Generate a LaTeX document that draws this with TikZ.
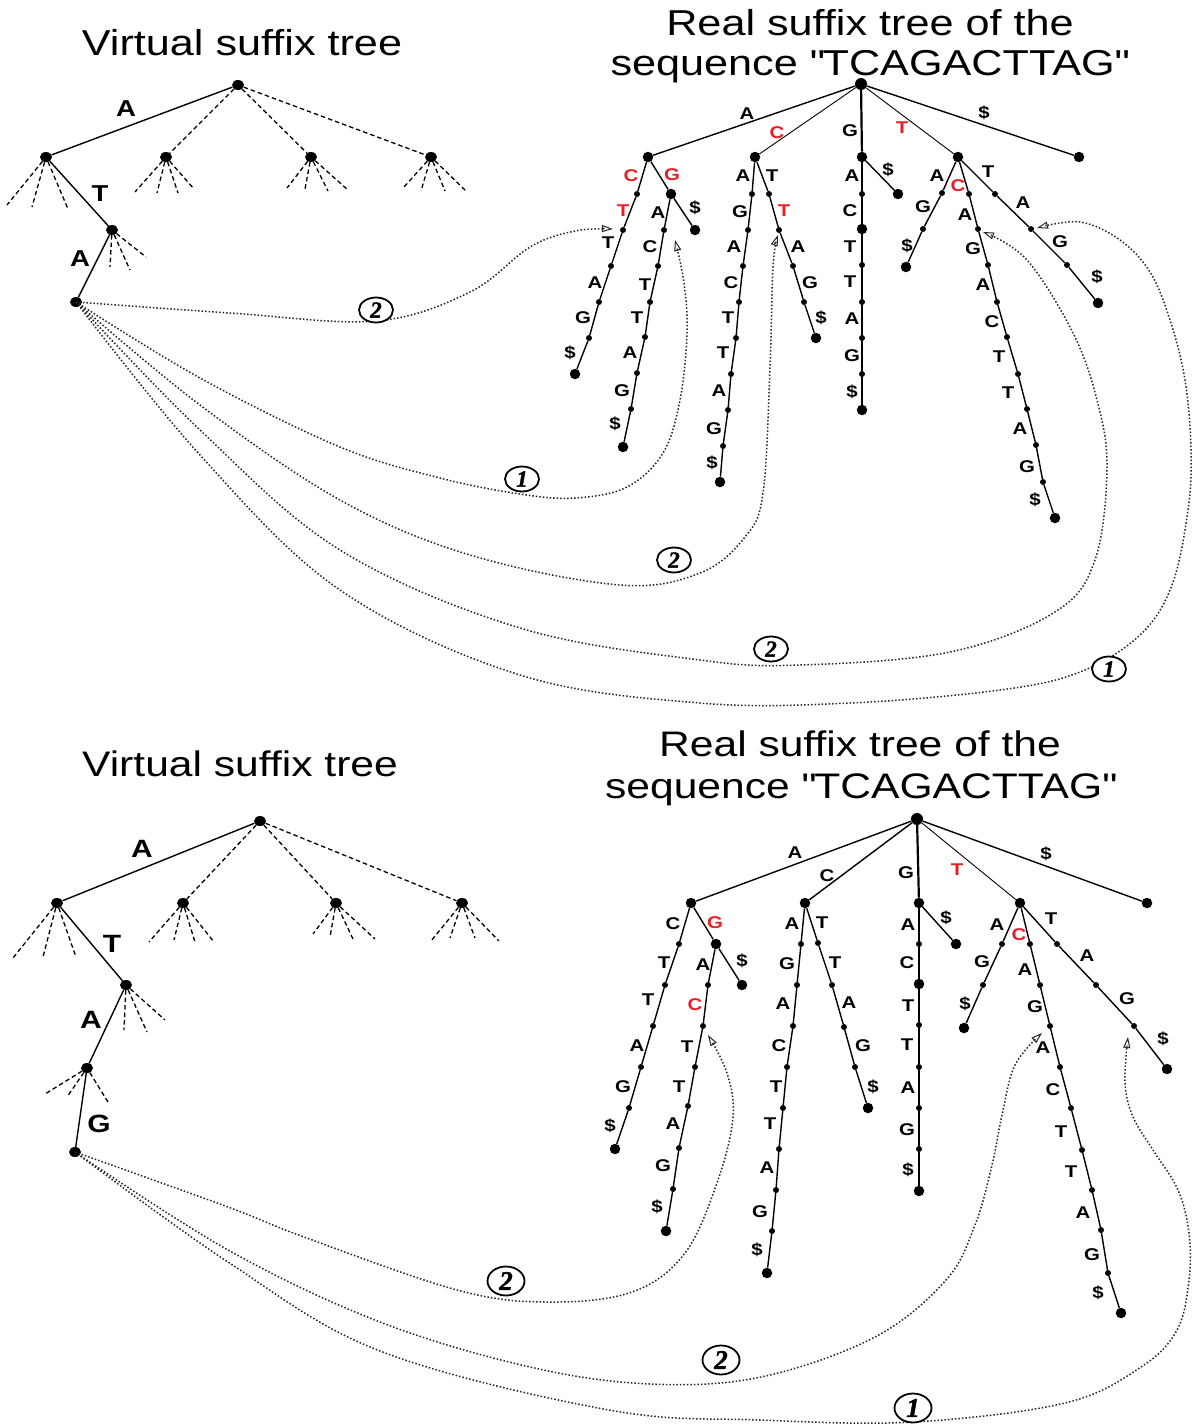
\documentclass[tikz,border=0pt]{standalone}
\usepackage{fontspec}
\setmainfont{Liberation Sans}[FakeStretch=1.2]
\newfontfamily\numfont{Liberation Serif}[FakeBold=1.5]
\usetikzlibrary{arrows.meta,shapes.geometric}
\definecolor{lred}{RGB}{235,28,36}
\newcommand\rd[1]{\textcolor{lred}{#1}}
\newcommand\chain[6]{%
  \node[bd] (#5) at #6 {};%
  \foreach \p [count=\i, remember=\i as \j (initially 0)] in {#4} {%
    \node[sd] (#2\i) at \p {};%
    \ifnum\j=0 \draw[#1] (#3) -- (#2\i);\else \draw[#1] (#2\j) -- (#2\i);\fi
    \xdef\lastname{#2\i}%
  }%
  \draw[#1] (\lastname) -- (#5);%
}
\newcommand\labs[2]{\foreach \x/\y/\t [count=\i] in {#2} {\node[lab] (#1\i) at (\x,\y) {\t};}}
\newcommand\fans[2]{\foreach \dx/\dy in {#2} {\draw[fan] (#1) -- ++(\dx,\dy);}}
\tikzset{
  sd/.style={circle,fill=black,inner sep=0pt,minimum size=6pt},
  bd/.style={circle,fill=black,inner sep=0pt,minimum size=10.5pt},
  vd/.style={ellipse,fill=black,inner sep=0pt,minimum width=12pt,minimum height=10pt},
  edge/.style={line width=1.4pt},
  tedge/.style={line width=0.9pt},
  gedge/.style={line width=2.2pt},
  fan/.style={line width=1.3pt,dash pattern=on 4.5pt off 3pt},
  lab/.style={inner sep=0pt,font=\fontsize{17}{17}\selectfont\bfseries},
  vlab/.style={inner sep=0pt,font=\fontsize{23}{23}\selectfont\bfseries},
  vlabb/.style={inner sep=0pt,font=\fontsize{25}{25}\selectfont\bfseries},
  ttl/.style={inner sep=0pt,anchor=base,font=\fontsize{36}{40}\selectfont},
  ttlb/.style={inner sep=0pt,anchor=base,font=\fontsize{35.5}{40}\selectfont},
  link/.style={line width=1.5pt,black!85,dash pattern=on 1.5pt off 2pt,
     -{Triangle[open,length=11pt,width=7pt,line width=1pt]}},
  cnum/.style={ellipse,draw,line width=1.8pt,fill=white,inner sep=0pt,
     minimum width=34pt,minimum height=25pt,
     font=\numfont\fontsize{23}{23}\selectfont\bfseries\itshape},
  cnumb/.style={cnum,minimum width=37pt,minimum height=29pt,
     font=\numfont\fontsize{27}{27}\selectfont\bfseries\itshape},
}
\begin{document}
\begin{tikzpicture}[x=1pt,y=-1pt]
\fill[white] (0,0) rectangle (1192,1427);
\useasboundingbox (0,0) rectangle (1192,1427);

%================ TOP PANEL ================
\node[ttl] (tv) at (242,55) {Virtual suffix tree};
\node[ttl] (tr1) at (870,35) {Real suffix tree of the};
\node[ttl] (tr2) at (869,75) {sequence \textquotedbl TCAGACTTAG\textquotedbl};

% virtual tree
\node[vd] (vr) at (238,85) {};
\node[vd] (v1) at (46,157) {};
\node[vd] (v2) at (166,157) {};
\node[vd] (v3) at (311,157) {};
\node[vd] (v4) at (431,157) {};
\node[vd] (v5) at (112,230) {};
\node[vd] (V) at (76,302) {};
\draw[edge] (vr) -- (v1);
\draw[edge] (v1) -- (v5);
\draw[edge] (v5) -- (V);
\draw[fan] (vr) -- (v2);
\draw[fan] (vr) -- (v3);
\draw[fan] (vr) -- (v4);
\fans{v1}{-39/48,-14/50,22/52}
\fans{v2}{-31/35,-9/36,12/36,28/32}
\fans{v3}{-24/31,-6/32,17/34,37/33}
\fans{v4}{-27/30,-10/34,14/34,35/34}
\fans{v5}{-2/37,18/40,34/27}
\node[vlab] (lva) at (126,109) {A};
\node[vlab] (lvt) at (100,194) {T};
\node[vlab] (lvb) at (80,259) {A};

% real tree
\node[bd,minimum size=12pt] (R) at (861,84) {};
\node[bd] (Ra) at (648,157) {};
\node[bd] (Rc) at (755,157) {};
\node[bd] (Rg) at (862,157) {};
\node[bd] (Rt) at (958,157) {};
\node[bd] (Rd) at (1079,157) {};
\draw[edge] (R) -- (Ra);
\draw[tedge] (R) -- (Rc);
\draw[gedge] (R) -- (Rg);
\draw[tedge] (R) -- (Rt);
\draw[edge] (R) -- (Rd);
\chain{edge}{rac}{Ra}{(637,194),(623,230),(611,266),(599,302),(589,338)}{racL}{(575,374)}
\node[bd] (Rag) at (671,194) {};
\draw[edge] (Ra) -- (Rag);
\node[bd] (Ragd) at (695,230) {};
\draw[edge] (Rag) -- (Ragd);
\chain{edge}{raga}{Rag}{(664,230),(658,266),(650,302),(645,337),(637,373),(631,409)}{ragaL}{(623,447)}
\chain{edge}{rca}{Rc}{(752,194),(748,230),(743,266),(739,302),(736,338),(731,374),(728,410),(723,446)}{rcaL}{(720,482)}
\chain{edge}{rct}{Rc}{(769,194),(779,230),(793,266),(804,302)}{rctL}{(816,338)}
\chain{gedge}{rg}{Rg}{(862,194)}{Rgm}{(862,229)}
\chain{gedge}{rgb}{Rgm}{(862,265),(862,302),(862,338),(862,374)}{rgL}{(862,410)}
\node[bd] (Rgd) at (898,194) {};
\draw[edge] (Rg) -- (Rgd);
\chain{edge}{rta}{Rt}{(942,193),(923,229)}{rtaL}{(906,267)}
\chain{edge}{rtc}{Rt}{(969,194),(978,229),(988,265),(997,302),(1007,337),(1018,374),(1027,409),(1036,445),(1043,482)}{rtcL}{(1055,518)}
\chain{edge}{rtt}{Rt}{(995,194),(1031,229),(1067,265)}{rttL}{(1098,303)}

\labs{LR}{747/114/A,777/133/\rd{C},850/131/G,902/128/\rd{T},984/113/\$}
\labs{Lrac}{631/176/\rd{C},623/211/\rd{T},608/243/T,595/283/A,583/318/G,570/353/\$}
\labs{Lrag}{672/175/\rd{G},695/208/\$}
\labs{Lraga}{658/213/A,650/247/C,645/285/T,637/318/T,630/353/A,622/391/G,615/424/\$}
\labs{Lrca}{743/176/A,740/212/G,734/247/A,731/283/C,728/318/T,723/353/T,719/391/A,714/429/G,712/463/\$}
\labs{Lrct}{772/176/T,784/211/\rd{T},798/247/A,810/283/G,821/318/\$}
\labs{Lrg}{852/176/A,850/211/C,850/247/T,850/282/T,852/319/A,852/356/G,852/392/\$,888/170/\$}
\labs{Lrta}{937/176/A,923/207/G,907/246/\$}
\labs{Lrtc}{958/186/\rd{C},965/215/A,973/249/G,983/285/A,992/322/C,999/357/T,1008/393/T,1020/429/A,1027/467/G,1035/500/\$}
\labs{Lrtt}{988/172/T,1023/203/A,1060/242/G,1097/277/\$}

% links
\coordinate (t1) at (613,229);
\coordinate (t2) at (675,240);
\coordinate (t3) at (778,235);
\coordinate (t4) at (983,232);
\coordinate (t5) at (1037,228);
\draw[link] plot[smooth,tension=0.6] coordinates {(V) (230,313) (376,321) (470,292) (530,247) (575,231) (t1)};
\draw[link] plot[smooth,tension=0.6] coordinates {(V) (200,378) (340,447) (440,478) (520,494) (575,498) (627,487) (663,453) (680,400) (687,333) (684,283) (t2)};
\draw[link] plot[smooth,tension=0.6] coordinates {(V) (200,405) (340,500) (470,555) (620,585) (700,573) (745,537) (763,493) (770,367) (773,267) (t3)};
\draw[link] plot[smooth,tension=0.6] coordinates {(V) (200,430) (340,550) (520,628) (700,660) (800,665) (950,652) (1055,612) (1095,560) (1107,467) (1097,400) (1073,333) (1027,260) (t4)};
\draw[link] plot[smooth,tension=0.6] coordinates {(V) (200,455) (340,590) (520,675) (700,703) (850,703) (1000,690) (1080,672) (1140,635) (1172,585) (1188,510) (1191,450) (1185,380) (1170,320) (1150,272) (1120,240) (1080,222) (t5)};
\node[cnum] (c1) at (376,310) {2};
\node[cnum] (c2) at (522,479) {1};
\node[cnum] (c3) at (674,560) {2};
\node[cnum] (c4) at (771,649) {2};
\node[cnum] (c5) at (1109,669) {1};

%================ BOTTOM PANEL ================
\node[ttlb] (bv) at (240,776) {Virtual suffix tree};
\node[ttlb] (br1) at (860,756) {Real suffix tree of the};
\node[ttlb] (br2) at (860,798) {sequence \textquotedbl TCAGACTTAG\textquotedbl};

% virtual tree
\node[vd] (wr) at (260,821) {};
\node[vd] (w1) at (57,903) {};
\node[vd] (w2) at (183,903) {};
\node[vd] (w3) at (336,903) {};
\node[vd] (w4) at (462,903) {};
\node[vd] (w5) at (126,985) {};
\node[vd] (w6) at (87,1068) {};
\node[vd] (V2) at (75,1152) {};
\draw[edge] (wr) -- (w1);
\draw[edge] (w1) -- (w5);
\draw[edge] (w5) -- (w6);
\draw[edge] (w6) -- (V2);
\draw[fan] (wr) -- (w2);
\draw[fan] (wr) -- (w3);
\draw[fan] (wr) -- (w4);
\fans{w1}{-44/55,-14/54,19/54}
\fans{w2}{-34/39,-9/37,12/39,31/39}
\fans{w3}{-23/31,-6/34,17/36,39/36}
\fans{w4}{-31/38,-12/35,13/35,37/38}
\fans{w5}{-2/45,21/47,39/35}
\fans{w6}{-42/26,-20/29,21/34}
\node[vlabb] (lwa) at (142,849) {A};
\node[vlabb] (lwt) at (112,944) {T};
\node[vlabb] (lwb) at (91,1020) {A};
\node[vlabb] (lwg) at (99,1124) {G};

% real tree
\node[bd,minimum size=12pt] (S) at (917,819) {};
\node[bd] (Sa) at (691,903) {};
\node[bd] (Sc) at (805,903) {};
\node[bd] (Sg) at (919,903) {};
\node[bd] (St) at (1020,903) {};
\node[bd] (Sd) at (1147,903) {};
\draw[edge] (S) -- (Sa);
\draw[edge] (S) -- (Sc);
\draw[gedge] (S) -- (Sg);
\draw[tedge] (S) -- (St);
\draw[edge] (S) -- (Sd);
\chain{edge}{sac}{Sa}{(679,944),(665,985),(653,1026),(641,1067),(629,1108)}{sacL}{(615,1149)}
\node[bd] (Sag) at (716,944) {};
\draw[edge] (Sa) -- (Sag);
\node[bd] (Sagd) at (742,985) {};
\draw[edge] (Sag) -- (Sagd);
\chain{edge}{saga}{Sag}{(708,985),(703,1026),(695,1067),(688,1106),(679,1148),(673,1189)}{sagaL}{(666,1231)}
\chain{edge}{sca}{Sc}{(801,944),(797,985),(793,1026),(787,1067),(783,1108),(779,1149),(776,1190),(772,1231)}{scaL}{(767,1273)}
\chain{edge}{sct}{Sc}{(818,943),(832,985),(844,1027),(855,1067)}{sctL}{(868,1108)}
\chain{gedge}{sg}{Sg}{(919,944)}{Sgm}{(919,984)}
\chain{gedge}{sgb}{Sgm}{(919,1025),(919,1067),(919,1108),(919,1149)}{sgL}{(919,1191)}
\node[bd] (Sgd) at (956,944) {};
\draw[edge] (Sg) -- (Sgd);
\chain{edge}{sta}{St}{(1002,944),(983,985)}{staL}{(964,1028)}
\chain{edge}{stc}{St}{(1030,944),(1040,985),(1050,1026),(1060,1067),(1071,1108),(1082,1150),(1092,1190),(1101,1230),(1108,1273)}{stcL}{(1121,1313)}
\chain{edge}{stt}{St}{(1057,944),(1096,985),(1134,1026)}{sttL}{(1167,1069)}

\labs{LS}{795/853/A,827/876/C,906/873/G,957/870/\rd{T},1046/854/\$}
\labs{Lsac}{673/924/C,664/963/T,648/1000/T,637/1046/A,623/1087/G,610/1126/\$}
\labs{Lsag}{715/923/\rd{G},742/961/\$}
\labs{Lsaga}{703/965/A,695/1005/\rd{C},687/1047/T,679/1087/T,673/1124/A,663/1166/G,657/1207/\$}
\labs{Lsca}{792/924/A,787/964/G,783/1004/A,779/1046/C,776/1087/T,770/1124/T,767/1168/A,760/1212/G,757/1250/\$}
\labs{Lsct}{822/923/T,835/963/T,849/1003/A,863/1046/G,873/1087/\$}
\labs{Lsg}{908/925/A,907/963/C,908/1006/T,907/1045/T,908/1088/A,907/1130/G,908/1170/\$,946/918/\$}
\labs{Lsta}{997/925/A,982/962/G,965/1004/\$}
\labs{Lstc}{1019/935/\rd{C},1025/970/A,1035/1007/G,1043/1048/A,1053/1090/C,1061/1132/T,1071/1172/T,1083/1213/A,1092/1255/G,1098/1293/\$}
\labs{Lstt}{1051/919/T,1087/956/A,1127/999/G,1163/1039/\$}

% links
\coordinate (u1) at (708,1035);
\coordinate (u2) at (1042,1033);
\coordinate (u3) at (1128,1037);
\draw[link] plot[smooth,tension=0.6] coordinates {(V2) (228,1207) (304,1237) (457,1290) (548,1302) (632,1292) (685,1253) (718,1180) (733,1117) (727,1073) (u1)};
\draw[link] plot[smooth,tension=0.6] coordinates {(V2) (228,1250) (380,1322) (530,1367) (650,1384) (761,1377) (875,1337) (946,1280) (975,1225) (992,1165) (1002,1115) (1015,1065) (u2)};
\draw[link] plot[smooth,tension=0.6] coordinates {(V2) (228,1262) (380,1351) (609,1410) (760,1420) (913,1422) (1065,1403) (1141,1367) (1177,1330) (1189,1280) (1189,1233) (1178,1190) (1153,1150) (1133,1117) (1125,1083) (u3)};
\node[cnumb] (d1) at (506,1281) {2};
\node[cnumb] (d2) at (721,1360) {2};
\node[cnumb] (d3) at (913,1408) {1};
\end{tikzpicture}
\end{document}
